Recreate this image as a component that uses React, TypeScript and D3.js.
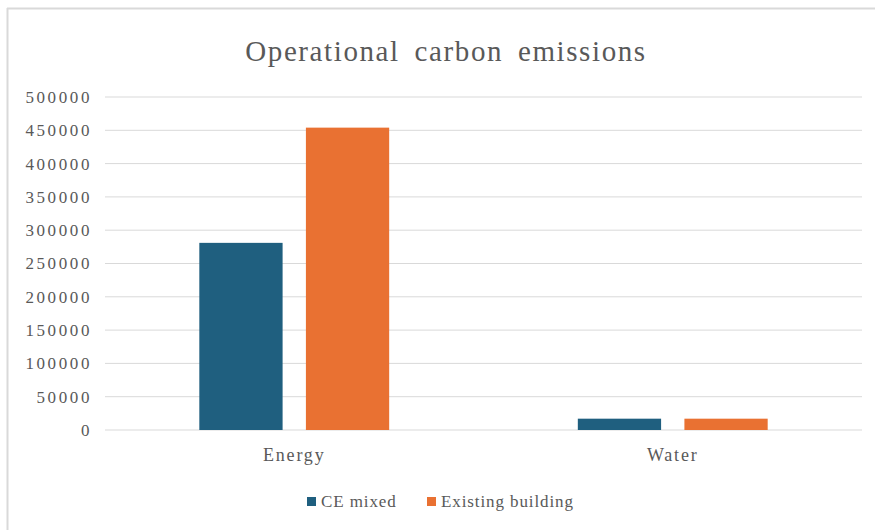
import React from "react";
import * as d3 from "d3";

const categories = ["Energy", "Water"];
const seriesNames = ["CE mixed", "Existing building"];
const ceMixed = [281000, 17000];
const existingBuilding = [454000, 17000];
const yTicks = [0, 50000, 100000, 150000, 200000, 250000, 300000, 350000, 400000, 450000, 500000];
const colors = ["#1f5f7f", "#e97132"];

const W = 875;
const H = 530;
const margin = { left: 105, right: 13, top: 97, bottom: 100 };
const font = "'Times New Roman', 'Liberation Serif', 'DejaVu Serif', serif";

export default function App() {
  const series = [ceMixed, existingBuilding];
  const x = d3
    .scaleBand<string>()
    .domain(categories)
    .range([margin.left, W - margin.right]);
  const y = d3
    .scaleLinear()
    .domain([0, 500000])
    .range([H - margin.bottom, margin.top]);

  const band = x.bandwidth();
  const barW = band * 0.22;
  const innerGap = barW * 0.28;
  const groupW = barW * 2 + innerGap;

  return (
    <svg
      width={W}
      height={H}
      style={{ position: "absolute", left: 0, top: 0, background: "#fff", fontFamily: font }}
    >
      <line x1={7.5} x2={7.5} y1={8} y2={H} stroke="#d9d9d9" strokeWidth={2} />
      <line x1={7} x2={W} y1={8.5} y2={8.5} stroke="#d9d9d9" strokeWidth={2} />

      <text
        x={446}
        y={61}
        textAnchor="middle"
        fontSize={29}
        fill="#595959"
        style={{ fontFamily: font, wordSpacing: "6px", letterSpacing: "1.6px" }}
      >
        Operational carbon emissions
      </text>

      {yTicks.map((t) => (
        <g key={t}>
          <line
            x1={margin.left}
            x2={W - margin.right}
            y1={y(t)}
            y2={y(t)}
            stroke="#d9d9d9"
            strokeWidth={1}
          />
          <text
            x={margin.left - 13}
            y={y(t)}
            dy="0.35em"
            textAnchor="end"
            fontSize={17}
            fill="#595959"
            style={{ fontFamily: font, letterSpacing: "2.6px" }}
          >
            {t}
          </text>
        </g>
      ))}

      {categories.map((c, ci) => {
        const cx = (x(c) as number) + band / 2;
        return (
          <g key={c}>
            {series.map((s, si) => (
              <rect
                key={si}
                x={cx - groupW / 2 + si * (barW + innerGap)}
                y={y(s[ci])}
                width={barW}
                height={y(0) - y(s[ci])}
                fill={colors[si]}
              />
            ))}
            <text
              x={cx}
              y={y(0) + 31}
              textAnchor="middle"
              fontSize={18}
              fill="#595959"
              style={{ fontFamily: font, letterSpacing: "1.8px" }}
            >
              {c}
            </text>
          </g>
        );
      })}

      <g transform="translate(0,507)">
        {seriesNames.map((n, i) => {
          const lx = [307, 427][i];
          return (
            <g key={n}>
              <rect x={lx} y={-10} width={9} height={9} fill={colors[i]} />
              <text
                x={lx + 14}
                y={0}
                fontSize={17}
                fill="#595959"
                style={{ fontFamily: font, letterSpacing: "0.9px" }}
              >
                {n}
              </text>
            </g>
          );
        })}
      </g>
    </svg>
  );
}
